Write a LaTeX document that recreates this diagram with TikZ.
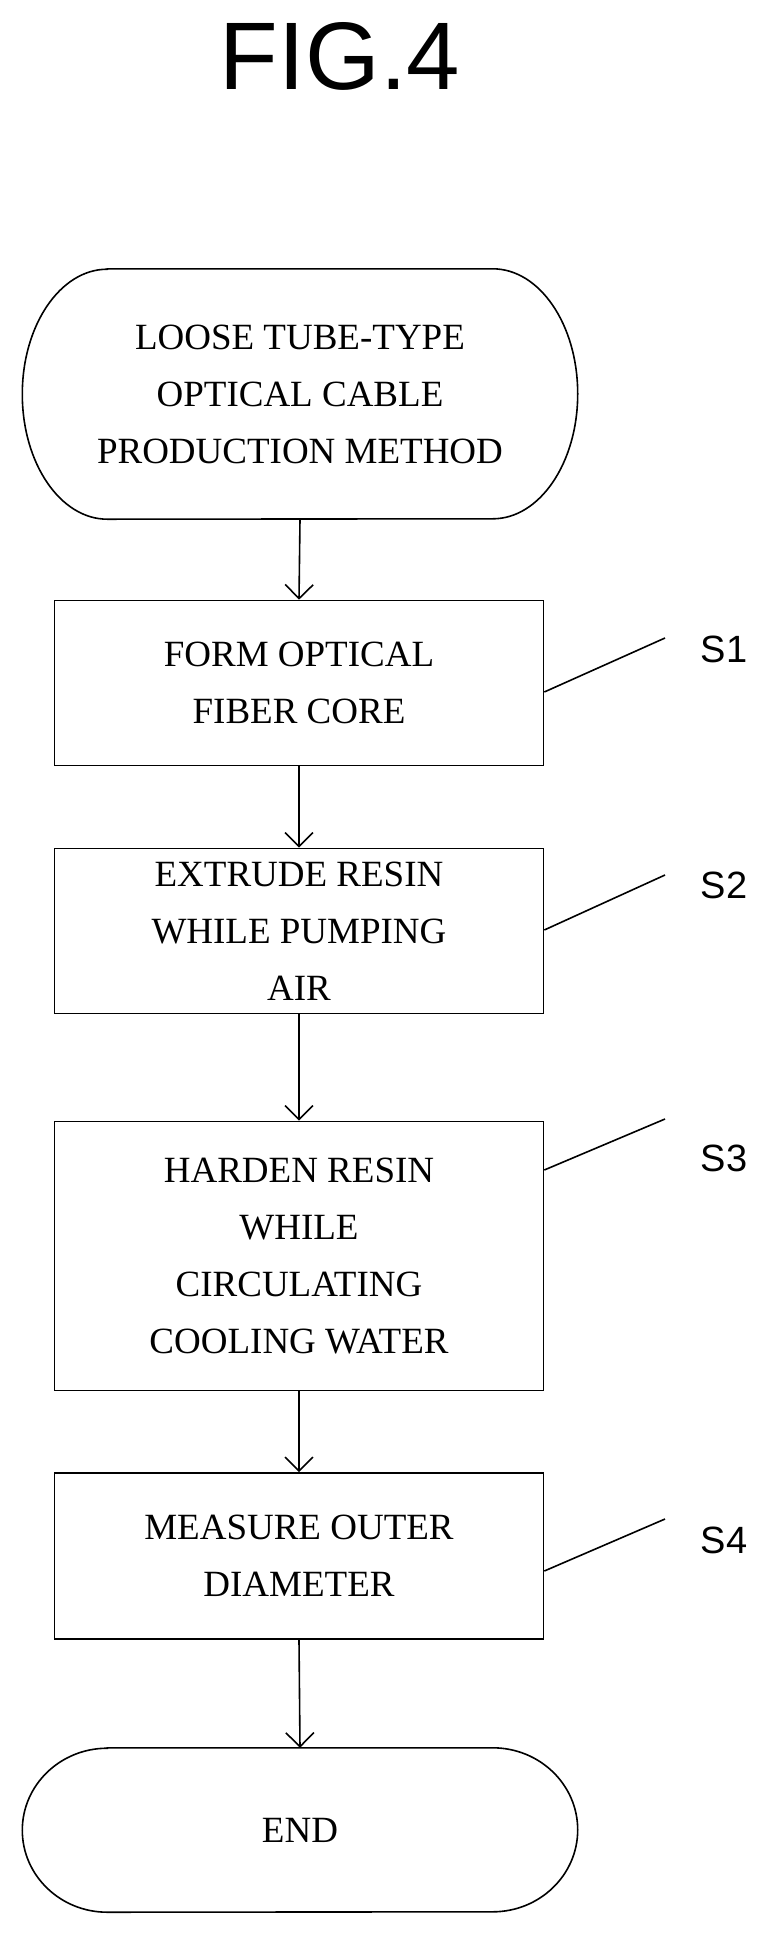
\documentclass[tikz,border=0pt]{standalone}
\usepackage{fontspec}
\setmainfont{Liberation Serif}
\setsansfont{Liberation Sans}
\usetikzlibrary{positioning,arrows.meta}

\tikzset{
  stepbox/.style={draw, line width=1.6pt, minimum width=489pt, align=center,
    font=\fontsize{37}{57}\selectfont},
  term/.style={minimum width=555pt, minimum height=250pt, align=center,
    font=\fontsize{37}{57}\selectfont},
  flow/.style={-{Straight Barb[length=14pt,width=28pt]}, line width=1.6pt},
  lead/.style={line width=1.6pt},
  tag/.style={font=\sffamily\fontsize{38}{40}\selectfont}
}
\newcommand{\termshape}[2]{%
  \draw[line width=1.6pt] ([xshift=85pt]#1.north west) -- ([xshift=-85pt]#1.north east)
    arc[start angle=90,end angle=-90,x radius=85pt,y radius=#2]
    -- ([xshift=85pt]#1.south west)
    arc[start angle=270,end angle=90,x radius=85pt,y radius=#2] -- cycle;}

\begin{document}
\begin{tikzpicture}[x=1pt,y=-1pt]
  \useasboundingbox (0,0) rectangle (776,1939);
  % title
  \node[font=\sffamily\fontsize{96}{100}\selectfont] (title) at (340,56) {FIG.4};
  % terminals and steps
  \node[term] (start) at (300,394) {LOOSE TUBE-TYPE\\OPTICAL CABLE\\PRODUCTION METHOD};
  \termshape{start}{125pt}
  \node[stepbox, minimum height=165pt] (s1) at (299,683) {FORM OPTICAL\\FIBER CORE};
  \node[stepbox, minimum height=165pt] (s2) at (299,931) {EXTRUDE RESIN\\WHILE PUMPING\\AIR};
  \node[stepbox, minimum height=269pt] (s3) at (299,1256) {HARDEN RESIN\\WHILE\\CIRCULATING\\COOLING WATER};
  \node[stepbox, minimum height=166pt] (s4) at (299,1556) {MEASURE OUTER\\DIAMETER};
  \node[term, minimum height=164pt] (end) at (300,1830) {END};
  \termshape{end}{82pt}
  % connectors
  \draw[flow] (start.south) -- (s1.north);
  \draw[flow] (s1) -- (s2);
  \draw[flow] (s2) -- (s3);
  \draw[flow] (s3) -- (s4);
  \draw[flow] (s4.south) -- (end.north);
  % step labels
  \node[tag] (t1) at (724,649) {S1};
  \node[tag] (t2) at (724,885) {S2};
  \node[tag] (t3) at (724,1158) {S3};
  \node[tag] (t4) at (724,1540) {S4};
  \coordinate (e1) at (665,638);
  \coordinate (e2) at (665,875);
  \coordinate (e3) at (665,1119);
  \coordinate (e4) at (665,1519);
  \draw[lead] (s1.east |- 0,692) -- (e1);
  \draw[lead] (s2.east |- 0,930) -- (e2);
  \draw[lead] (s3.east |- 0,1170) -- (e3);
  \draw[lead] (s4.east |- 0,1571) -- (e4);
\end{tikzpicture}
\end{document}
